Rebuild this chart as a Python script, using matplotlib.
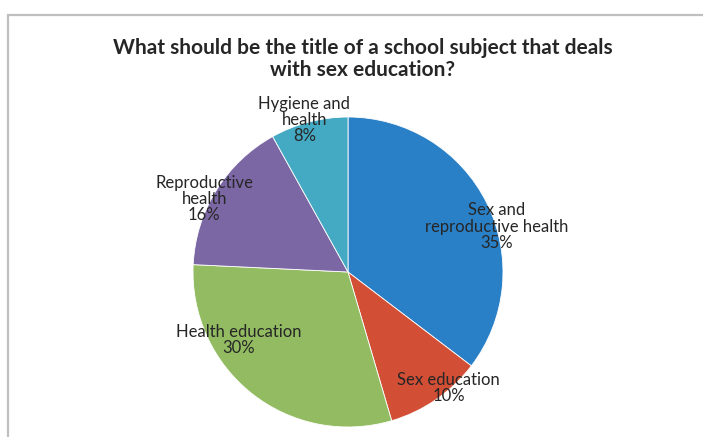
import numpy as np
import matplotlib
matplotlib.use("Agg")
from matplotlib import pyplot as plt
from matplotlib.patches import Rectangle

plt.rcParams['font.family'] = ['Lato', 'DejaVu Sans']

labels = ["Sex and\nreproductive health", "Sex education", "Health education",
          "Reproductive\nhealth", "Hygiene and\nhealth"]
values = [35, 10, 30, 16, 8]
colors = ["#2A80C6", "#D24E35", "#93BC62", "#7C67A5", "#44AAC3"]
title = "What should be the title of a school subject that deals\nwith sex education?"

# label placement: (angle in degrees, distance as fraction of radius)
label_pos = [(17, 1.0), (-49, 0.99), (212, 0.83), (153, 1.04), (106, 1.02)]

fig = plt.figure(figsize=(7.03, 4.37), dpi=100)
W, H = 703, 437

# chart frame (only left and top edges are visible in the crop)
fig.add_artist(Rectangle((8 / W, -0.1), 1.2, (H - 15) / H + 0.1,
                         transform=fig.transFigure, fill=False,
                         edgecolor="#BFBFBF", linewidth=1.6))

# pie area: centre (348, 272), radius 155 px
r = 155
cx, cy = 348, H - 272
ax = fig.add_axes([(cx - r) / W, (cy - r) / H, 2 * r / W, 2 * r / H])
wedges, _ = ax.pie(values, colors=colors, startangle=90, counterclock=False,
                   wedgeprops=dict(linewidth=0.6, edgecolor="white"))
ax.set_xlim(-1, 1)
ax.set_ylim(-1, 1)
ax.set_aspect("equal")

total = sum(values)
for lab, v, (ang, dist) in zip(labels, values, label_pos):
    t = np.deg2rad(ang)
    ax.text(dist * np.cos(t), dist * np.sin(t), f"{lab}\n{round(100 * v / total)}%",
            ha="center", va="center", fontsize=12, color="#262626",
            linespacing=1.02)

fig.text(363 / W, 1 - 59 / H, title, ha="center", va="center",
         fontsize=15, fontweight="bold", color="#262626", linespacing=1.08)

fig.savefig("out.png", dpi=100)
